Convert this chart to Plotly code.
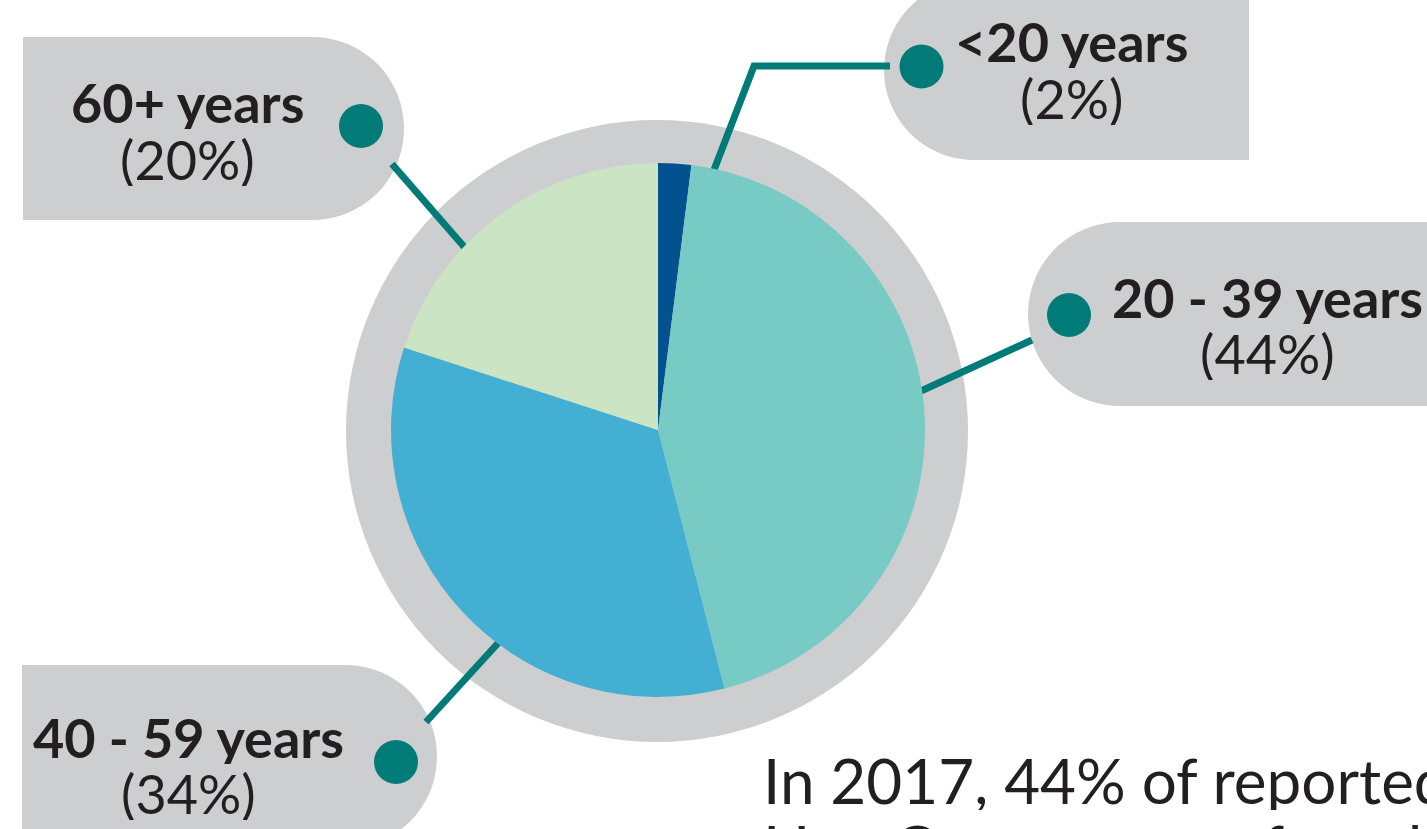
import numpy as np
import plotly.graph_objects as go

# ---- data ----
age_groups = ["<20 years", "20 - 39 years", "40 - 59 years", "60+ years"]
shares = [2, 44, 34, 20]
slice_colors = ["#03528f", "#77cbc4", "#43b0d3", "#cbe4c4"]
caption_lines = ["In 2017, 44% of reported", "Hep C cases were found in"]

W, H = 1427, 829
GRAY = "#cdced0"
TEAL = "#007b78"
TXT = "#231f20"
FONT = "Lato"

# pie geometry (pixels)
cx, cy, r = 658, 430, 267

fig = go.Figure()
fig.add_trace(go.Pie(
    labels=age_groups, values=shares, sort=False, direction="clockwise",
    rotation=0, marker=dict(colors=slice_colors, line=dict(width=0)),
    textinfo="none", hoverinfo="label+percent", showlegend=False,
    domain=dict(x=[(cx - r) / W, (cx + r) / W], y=[(H - cy - r) / H, (H - cy + r) / H]),
))

shapes = []
# gray ring behind pie
rc = 311
shapes.append(dict(type="circle", xref="x", yref="y", x0=657 - rc, x1=657 + rc,
                   y0=431 - rc, y1=431 + rc, fillcolor=GRAY, line_width=0, layer="below"))


def tag_path(x_left, x_right, y_top, y_bot, round_side):
    rr = (y_bot - y_top) / 2
    yc = (y_top + y_bot) / 2
    t = np.linspace(-np.pi / 2, np.pi / 2, 40)
    if round_side == "right":
        xc = x_right - rr
        pts = [(x_left, y_top), (xc, y_top)]
        pts += [(xc + rr * np.cos(a), yc + rr * np.sin(a)) for a in t]
        pts += [(xc, y_bot), (x_left, y_bot)]
    else:
        xc = x_left + rr
        pts = [(x_right, y_top), (xc, y_top)]
        pts += [(xc - rr * np.cos(a), yc - rr * np.sin(a)) for a in t]
        pts += [(xc, y_bot), (x_right, y_bot)]
    return "M " + " L ".join(f"{x:.1f},{y:.1f}" for x, y in pts) + " Z"


tags = [
    (23, 404, 37, 220, "right"),      # 60+
    (884, 1249, -20, 160, "left"),    # <20
    (1028, 1460, 222, 406, "left"),   # 20-39
    (22, 437, 665, 848, "right"),     # 40-59
]
for xl, xr, yt, yb, side in tags:
    shapes.append(dict(type="path", xref="x", yref="y", path=tag_path(xl, xr, yt, yb, side),
                       fillcolor=GRAY, line_width=0, layer="below"))

# connectors
lw = 7
connectors = [
    [(714, 170), (754, 66), (890, 66)],
    [(921, 391), (1032, 340)],
    [(466, 249), (392, 164)],
    [(500, 641), (426, 722)],
]
for pts in connectors:
    path = "M " + " L ".join(f"{x},{y}" for x, y in pts)
    shapes.append(dict(type="path", xref="x", yref="y", path=path,
                       line=dict(color=TEAL, width=lw), layer="below"))

# dots
dots = [(361, 126), (921.5, 66.5), (1069, 315), (396, 762)]
dr = 22
for x, y in dots:
    shapes.append(dict(type="circle", xref="x", yref="y", x0=x - dr, x1=x + dr,
                       y0=y - dr, y1=y + dr, fillcolor=TEAL, line_width=0))

annotations = []
label_pos = {
    "<20 years": (1071, 41, 98),
    "20 - 39 years": (1267, 297, 353),
    "40 - 59 years": (188, 737, 793),
    "60+ years": (187, 102, 159),
}
FS = 54
for g, v in zip(age_groups, shares):
    x, y1, y2 = label_pos[g]
    annotations.append(dict(x=x, y=y1, xref="x", yref="y", text=g, showarrow=False,
                            xanchor="center", yanchor="middle", height=54, valign="middle",
                            font=dict(family=FONT, size=FS, color=TXT, weight=700)))
    annotations.append(dict(x=x, y=y2, xref="x", yref="y", text=f"({v}%)", showarrow=False,
                            xanchor="center", yanchor="middle", height=54, valign="middle",
                            font=dict(family=FONT, size=FS, color=TXT, weight=400)))

for i, line in enumerate(caption_lines):
    ypix = 780 + 67 * i
    annotations.append(dict(x=761 / W, y=1 - ypix / H, xref="paper", yref="paper", text=line,
                            showarrow=False, xanchor="left", yanchor="middle",
                            height=60, valign="middle",
                            font=dict(family=FONT, size=62, color=TXT, weight=400)))

fig.update_layout(
    width=W, height=H, margin=dict(l=0, r=0, t=0, b=0),
    paper_bgcolor="white", plot_bgcolor="white",
    xaxis=dict(range=[0, W], visible=False, fixedrange=True, domain=[0, 1]),
    yaxis=dict(range=[H, 0], visible=False, fixedrange=True, domain=[0, 1]),
    shapes=shapes, annotations=annotations,
)
fig.write_html("out.html", config={"displayModeBar": False})
